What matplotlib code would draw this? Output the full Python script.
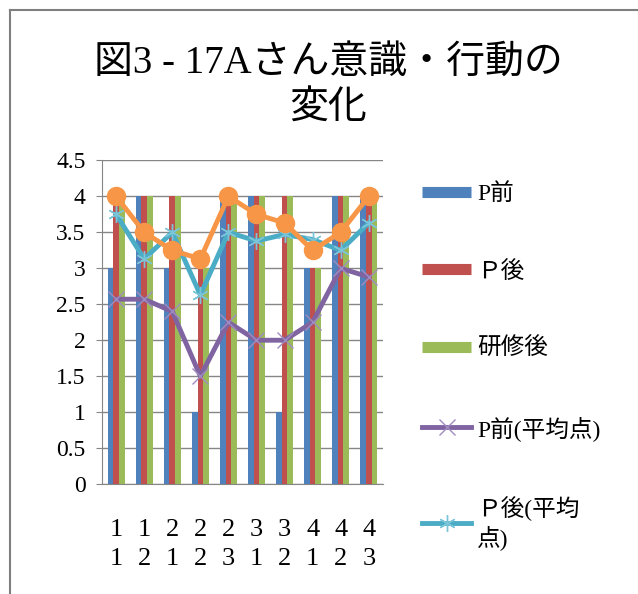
import numpy as np
import matplotlib
matplotlib.use('Agg')
import matplotlib.pyplot as plt
from matplotlib.lines import Line2D
from matplotlib.ticker import FuncFormatter

plt.rcParams['font.family'] = ['Liberation Serif', 'Noto Sans CJK JP', 'DejaVu Sans']

#### data
categories = ['1\n1', '1\n2', '2\n1', '2\n2', '2\n3', '3\n1', '3\n2', '4\n1', '4\n2', '4\n3']
p_mae = [3, 4, 3, 1, 4, 4, 1, 3, 4, 4]
p_ato = [4, 4, 4, 3, 4, 4, 4, 3, 4, 4]
kenshu_ato = [4, 4, 4, 3, 4, 4, 4, 3, 4, 4]
p_mae_avg = [2.57, 2.57, 2.4, 1.5, 2.25, 2.0, 2.0, 2.25, 3.0, 2.88]
p_ato_avg = [3.75, 3.13, 3.5, 2.63, 3.5, 3.38, 3.47, 3.4, 3.25, 3.63]
kenshu_avg = [4.0, 3.5, 3.25, 3.13, 4.0, 3.75, 3.63, 3.25, 3.5, 4.0]
####

blue = '#4F81BD'
red = '#C0504D'
green = '#9BBB59'
purple = '#8064A2'
cyan = '#4BACC6'
orange = '#F79646'

fig = plt.figure(figsize=(6.38, 5.94), dpi=100)
ax = fig.add_axes([0.16, 0.185, 0.44, 0.545])

x = np.arange(len(categories))
w = 0.2
ax.bar(x - w, p_mae, w, color=blue, zorder=2)
ax.bar(x, p_ato, w, color=red, zorder=2)
ax.bar(x + w, kenshu_ato, w, color=green, zorder=2)

l1, = ax.plot(x, p_mae_avg, color=purple, lw=3.5, marker='x', ms=11,
              mec='#A08CC0', mew=1, label='P前(平均点)', zorder=3)
l2, = ax.plot(x, p_ato_avg, color=cyan, lw=3.5, marker=(6, 2, 0), ms=12,
              mec='#7CC4D8', mew=1, label='Ｐ後(平均\n点)', zorder=4)
l3, = ax.plot(x, kenshu_avg, color=orange, lw=3.5, marker='o', ms=13,
              mec=orange, label='研修後(平均点)', zorder=5)

ax.set_xlim(-0.5, len(categories) - 0.5)
ax.set_ylim(0, 4.5)
ax.set_yticks(np.arange(0, 4.51, 0.5))
ax.yaxis.set_major_formatter(FuncFormatter(lambda v, p: ('%g' % v)))
ax.set_xticks(x)
ax.set_xticklabels(categories, fontsize=19, linespacing=1.4)
ax.tick_params(axis='y', labelsize=17, length=4, color='#868686', pad=8)
ax.tick_params(axis='x', length=0, pad=25)
ax.grid(axis='y', color='#868686', lw=1, zorder=0)
for s in ['top', 'right']:
    ax.spines[s].set_visible(False)
for s in ['left', 'bottom']:
    ax.spines[s].set_color('#868686')

fig.suptitle('図3 - 17Aさん意識・行動の\n変化', x=0.515, y=0.925, fontsize=28,
             linespacing=1.3)

# legend keys for the bars are drawn as thick short lines, like the original
bar_keys = [Line2D([], [], color=c, lw=8, solid_capstyle='butt', label=t)
            for c, t in [(blue, 'P前'), (red, 'Ｐ後'), (green, '研修後')]]
fig.legend(handles=bar_keys + [l1, l2], loc='upper left',
           bbox_to_anchor=(0.628, 0.727), frameon=False, fontsize=17,
           handlelength=2.1, handletextpad=0.25, labelspacing=2.35)

# chart frame (left and top edges)
fig.add_artist(Line2D([0.016, 0.016], [0.0, 0.983], color='#7f7f7f', lw=1.5))
fig.add_artist(Line2D([0.016, 1.0], [0.983, 0.983], color='#7f7f7f', lw=1.5))

fig.savefig('out.png', dpi=100)
